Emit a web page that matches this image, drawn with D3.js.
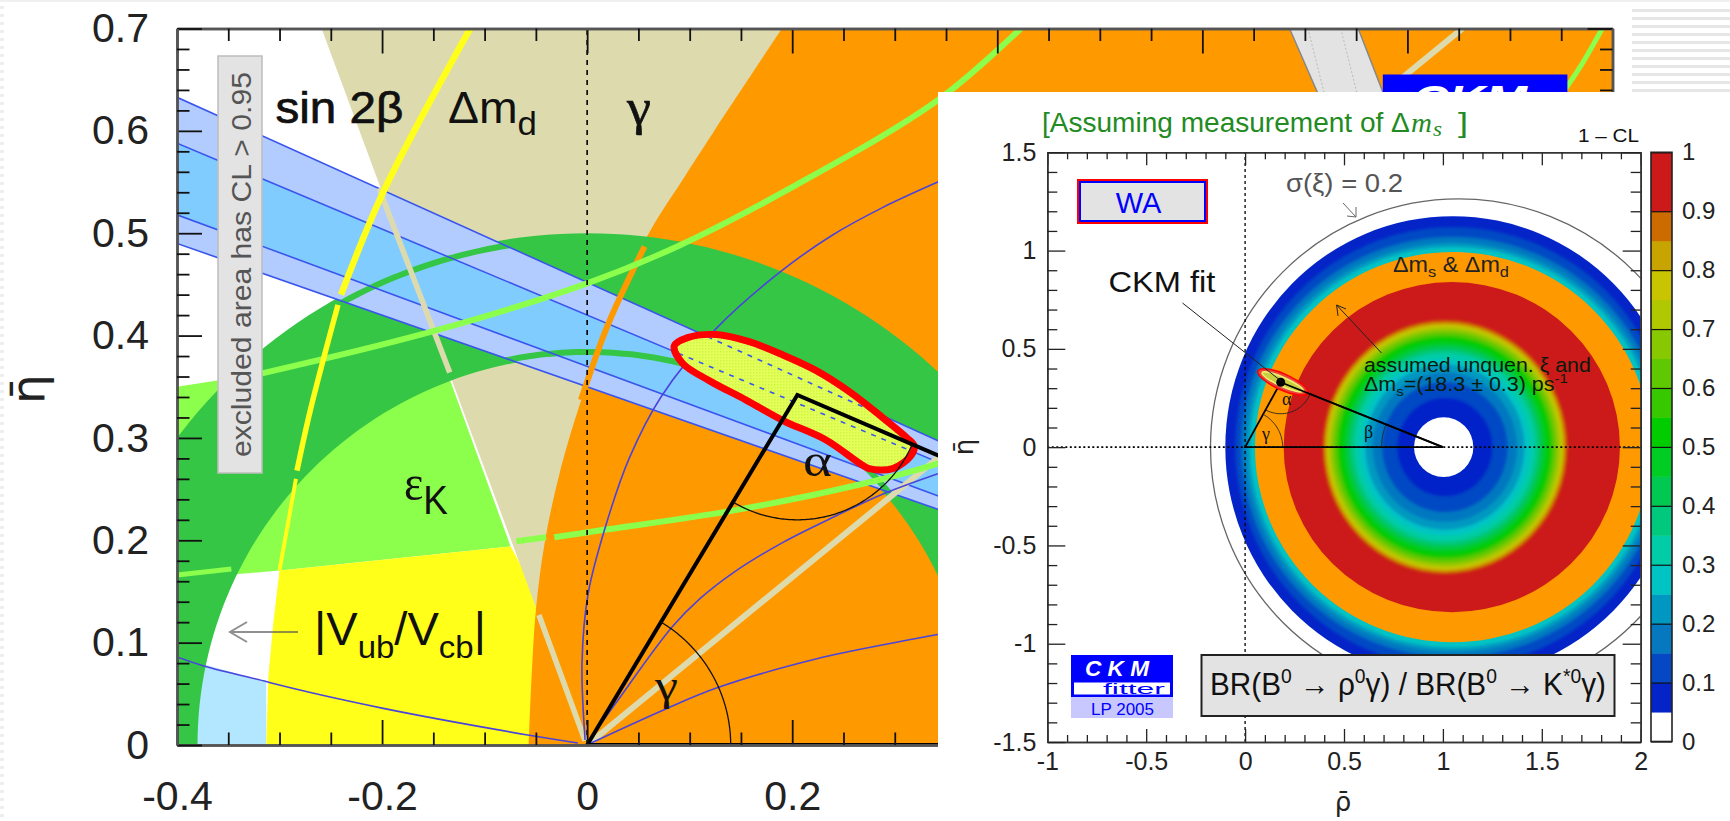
<!DOCTYPE html>
<html><head><meta charset="utf-8">
<style>html,body{margin:0;padding:0;background:#fff}svg{display:block}text{font-family:"Liberation Sans",Arial,sans-serif}</style>
<script src="https://cdn.jsdelivr.net/npm/d3@7"></script></head><body>
<svg id="c" width="1730" height="821"></svg>
<script>
// ---------- main plot data (rho, eta) ----------
const mainXMajor=[-0.4,-0.2,0,0.2,0.4,0.6,0.8,1];
const mainXLabels=[-0.4,-0.2,0,0.2];
const mainYMajor=[0,0.1,0.2,0.3,0.4,0.5,0.6,0.7];
const mainXMinor=[-0.35,-0.3,-0.25,-0.15,-0.1,-0.05,0.05,0.1,0.15,0.25,0.3,0.35,0.45,0.5,0.55,0.65,0.7,0.75,0.85,0.9,0.95];
const mainYMinor=[0.02,0.04,0.06,0.08,0.12,0.14,0.16,0.18,0.22,0.24,0.26,0.28,0.32,0.34,0.36,0.38,0.42,0.44,0.46,0.48,0.52,0.54,0.56,0.58,0.62,0.64,0.66,0.68];
const apex=[0.205,0.342];
const origin=[0,0], pivot=[1,0];
const orangeEdge=[[-0.057,0],[-0.054,0.07],[-0.05,0.132],[-0.041,0.2],[-0.027,0.265],[-0.009,0.327],[0.02,0.41],[0.058,0.496],[0.093,0.552],[0.122,0.597],[0.19,0.7]];
const orangeStrip=[[-0.006,0.337],[0.02,0.41],[0.056,0.487]];
const yellowEdge=[[-0.313,0],[-0.311,0.066],[-0.306,0.12],[-0.3,0.171],[-0.283,0.262],[-0.27,0.327],[-0.24,0.434],[-0.198,0.542],[-0.114,0.7]];
const yellowStripA=[[-0.114,0.7],[-0.198,0.542],[-0.24,0.44]];
const yellowStripB=[[-0.243,0.43],[-0.27,0.327],[-0.283,0.268]];
const yellowStripC=[[-0.284,0.26],[-0.292,0.215],[-0.3,0.171]];
const ekUpper=[[-0.4,0.35],[-0.317,0.363],[-0.151,0.404],[0,0.451],[0.09,0.488],[0.2,0.545],[0.342,0.63],[0.423,0.7]];
const ekLower=[[-0.4,0.163],[-0.34,0.167],[-0.295,0.171],[-0.0746,0.194]];
const ekStripLeft=[[-0.4,0.166],[-0.347,0.172]];
const ekStripMid=[[-0.069,0.199],[-0.04,0.203]];
const ekStripRight=[[-0.032,0.203],[0.015,0.21],[0.142,0.229],[0.272,0.256],[0.342,0.275],[0.5,0.33]];
const ekStripFar=[[0.952,0.638],[0.97,0.665],[0.99,0.7]];
const annulusInner=0.38, annulusOuter=0.5;
const annulusInnerStrip=0.384, annulusOuterStrip=0.494;
const bandLines=[0.452,0.42,0.37,0.35]; // eta at rho = 0 of lines through (1,0)
const rayA=-2.7, rayB=0.82; // slopes of the gamma rays through the origin
const rayStripA=[[-0.203,0.544],[-0.134,0.364]];
const rayStripALow=[[-0.047,0.127],[-0.002,0.004]];
const curve1=[[-0.002,0.005],[-0.005,0.08],[0.001,0.148],[0.019,0.217],[0.041,0.28],[0.072,0.34],[0.126,0.407],[0.188,0.462],[0.239,0.498],[0.288,0.525],[0.342,0.55],[0.4,0.575]];
const curve2=[[0.001,0.003],[0.028,0.041],[0.083,0.1155],[0.11,0.143],[0.142,0.168],[0.191,0.198],[0.243,0.224],[0.288,0.245],[0.342,0.265]];
const curve3=[[0.004,0.002],[0.074,0.034],[0.126,0.0556],[0.223,0.084],[0.321,0.104],[0.342,0.108],[0.4,0.118]];
const curveLeft=[[-0.4,0.086],[-0.373,0.077],[-0.313,0.062],[-0.306,0.06],[-0.2,0.036],[-0.058,0.0098],[-0.009,0.002]];
const skyPatch=[[-0.4,0],[-0.4,0.086],[-0.313,0.062],[-0.313,0]];
const contour=[[0.085,0.39],[0.098,0.398],[0.126,0.401],[0.158,0.394],[0.191,0.381],[0.223,0.366],[0.256,0.345],[0.288,0.32],[0.312,0.3],[0.319,0.292],[0.316,0.283],[0.298,0.27],[0.275,0.27],[0.266,0.275],[0.233,0.298],[0.191,0.317],[0.155,0.337],[0.119,0.356],[0.093,0.373]];
const gammaArcRadius=0.14, alphaArcRadius=0.122;
const greyBar=[[0.685,0.7],[0.712,0.638],[0.712,0.5],[0.776,0.5],[0.776,0.638],[0.752,0.7]];
const greyBarInner=[[[0.703,0.7],[0.728,0.6]],[[0.735,0.7],[0.76,0.6]]];
const ckmBox=[[0.776,0.655],[0.956,0.655],[0.956,0.5],[0.776,0.5]];

// ---------- inset data ----------
const insetXMajor=[-1,-0.5,0,0.5,1,1.5,2];
const insetYMajor=[-1.5,-1,-0.5,0,0.5,1,1.5];
const insetXMinor=[-0.9,-0.8,-0.7,-0.6,-0.4,-0.3,-0.2,-0.1,0.1,0.2,0.3,0.4,0.6,0.7,0.8,0.9,1.1,1.2,1.3,1.4,1.6,1.7,1.8,1.9];
const insetYMinor=[-1.4,-1.3,-1.2,-1.1,-0.9,-0.8,-0.7,-0.6,-0.4,-0.3,-0.2,-0.1,0.1,0.2,0.3,0.4,0.6,0.7,0.8,0.9,1.1,1.2,1.3,1.4];
const barLabels=[0,0.1,0.2,0.3,0.4,0.5,0.6,0.7,0.8,0.9,1];
const barEdges=[0,0.05,0.1,0.15,0.2,0.25,0.3,0.35,0.4,0.45,0.5,0.55,0.6,0.65,0.7,0.75,0.8,0.85,0.9,1];
const barColors=["#ffffff","#0424c8","#0648c4","#0678c0","#0098c0","#00c4c4","#00cca8","#00c87c","#00c850","#00cc24","#00cc00","#38c800","#60c800","#88c800","#b0c800","#c8c400","#c8a400","#cc6c00","#cc1a1a"];
const ringOrange="#ff9900";
const ringValue=[0.05,0.1,0.15,0.2,0.25,null,0.9,0.85,0.8,0.75,0.7,0.65,0.6,0.55,0.5,0.45,0.4,0.35,0.3,0.25,0.2,0.15,0.1,0.05,0];
const ringEta=[1.175,1.12,1.07,1.04,1.02,0.993,0.84,0.645,0.632,0.622,0.612,0.6,0.585,0.57,0.555,0.54,0.52,0.5,0.48,0.45,0.42,0.38,0.33,0.25,0.152];
const ringRho=[1.15,1.1,1.07,1.045,1.025,1.0,0.85,0.618,0.606,0.596,0.586,0.575,0.56,0.546,0.532,0.517,0.498,0.479,0.46,0.431,0.402,0.364,0.316,0.24,0.15];
const ringCenter=[1.05,1.05,1.05,1.05,1.05,1.05,1.045,1.011,1.01,1.01,1.01,1.01,1.01,1.01,1.01,1.01,1.01,1.01,1.01,1.01,1.01,1.01,1.01,1.01,1.004];
const sigmaCircle={rho:1.08,r:1.255};
const insetApex=[0.18,0.33];
const insetContourCenter=[0.19,0.332];

// ---------- scales ----------
const x=d3.scaleLinear([-0.4,1],[177,1612.5]);
const y=d3.scaleLinear([0,0.7],[745,28.5]);
const ix=d3.scaleLinear([-1,2],[1047.3,1640.7]);
const iy=d3.scaleLinear([-1.5,1.5],[742,152.3]);
const by=d3.scaleLinear([0,1],[741.5,152.3]);
const barColor=d3.scaleThreshold().domain(barEdges.slice(1,-1)).range(barColors);

const svg=d3.select("#c");
const defs=svg.append("defs");
const line=d3.line(d=>x(d[0]),d=>y(d[1]));
const smooth=d3.line(d=>x(d[0]),d=>y(d[1])).curve(d3.curveCatmullRom);
const closed=d3.line(d=>x(d[0]),d=>y(d[1])).curve(d3.curveCatmullRomClosed);
const iline=d3.line(d=>ix(d[0]),d=>iy(d[1]));

defs.append("filter").attr("id","soft").attr("x","-5%").attr("y","-5%").attr("width","110%").attr("height","110%")
  .append("feGaussianBlur").attr("stdDeviation",1.6);
const pat=defs.append("pattern").attr("id","dots").attr("width",3).attr("height",3).attr("patternUnits","userSpaceOnUse");
pat.append("rect").attr("width",3).attr("height",3).attr("fill","#e4ff58");
pat.append("rect").attr("width",1.5).attr("height",1.5).attr("fill","#ccf545");

// slide background
const bg=svg.append("g");
bg.append("rect").attr("x",0).attr("y",0).attr("width",1730).attr("height",2).attr("fill","#f0f0f0");
d3.range(6,821,8).forEach(v=>bg.append("rect").attr("x",0).attr("y",v).attr("width",4).attr("height",3).attr("fill","#eeeeee"));
d3.range(9,92,8).forEach(v=>bg.append("rect").attr("x",1632).attr("y",v).attr("width",98).attr("height",3).attr("fill","#e6e6e6"));

// ---------- main plot ----------
defs.append("clipPath").attr("id","mainClip").append("rect").attr("x",x(-0.4)).attr("y",y(0.7)).attr("width",x(1)-x(-0.4)).attr("height",y(0)-y(0.7));
const bandPoly=[[-0.4,bandLines[0]*1.4],[1,0],[-0.4,bandLines[3]*1.4]];
const innerPoly=[[-0.4,bandLines[1]*1.4],[1,0],[-0.4,bandLines[2]*1.4]];
defs.append("clipPath").attr("id","bandClip").append("path").attr("d",line(bandPoly)+"Z");
defs.append("clipPath").attr("id","contourClip").append("path").attr("d",closed(contour));

const m=svg.append("g").attr("clip-path","url(#mainClip)");
const fillP=(pts,col,gen=line)=>m.append("path").attr("d",gen(pts)+"Z").attr("fill",col);
const strip=(pts,col,w,par=m)=>par.append("path").attr("d",smooth(pts)).attr("fill","none").attr("stroke",col).attr("stroke-width",w);
const circlePts=(r,a0,a1)=>d3.range(a0,a1+0.001,(a1-a0)/120).map(a=>[r*Math.cos(a),r*Math.sin(a)]);

const lowerRev=ekLower.slice().reverse();
fillP(ekUpper.slice(0,3).concat(lowerRev),"#8cff4c");
fillP(skyPatch,"#b3e6ff");
const yellowPoly=yellowEdge.slice(0,4).concat(ekLower.slice(2)).concat([[-0.04,0.13],[-0.04,0]]);
fillP(yellowPoly,"#ffff1a");
fillP([[-0.049,0.132],[-0.259,0.7],[0.3,0.7],[0.3,0.132]],"#dddbae");
m.append("path").attr("d",smooth(orangeEdge)+"L"+x(1)+","+y(0.7)+"L"+x(1)+","+y(0)+"Z").attr("fill","#ff9900");
// annulus
fillP(circlePts(annulusOuter,0,Math.PI).concat(circlePts(annulusInner,0,Math.PI).reverse()),"#35c646");
// bands
fillP(bandPoly,"#b3ccff");
fillP(innerPoly,"#80ccff");
// strips clipped to the band
const bandStrips=m.append("g").attr("clip-path","url(#bandClip)");
strip(circlePts(annulusOuterStrip,0,Math.PI),"#35c646",6,bandStrips);
strip(circlePts(annulusInnerStrip,0,Math.PI),"#35c646",6,bandStrips);
// band edge lines
bandLines.forEach(v=>m.append("path").attr("d",line([[-0.4,v*1.4],[1,0]])).attr("fill","none").attr("stroke","#3a55ee").attr("stroke-width",1.6));
strip(orangeStrip,"#ff9900",6);
strip(rayStripA,"#dddbae",5.5);
strip(rayStripALow,"#dddbae",5.5);
m.append("path").attr("d",line([[0,0],[0.7/rayB,0.7]])).attr("fill","none").attr("stroke","#dddbae").attr("stroke-width",6);
strip(ekUpper.slice(1),"#8cff4c",6);
strip(ekStripLeft,"#8cff4c",5);
strip(ekStripMid,"#8cff4c",6);
strip(ekStripRight,"#8cff4c",6);
strip(ekStripFar,"#8cff4c",5);
strip(yellowStripA,"#ffff1a",6.5);
strip(yellowStripB,"#ffff1a",5.5);
strip(yellowStripC,"#ffff1a",4);
[curve1,curve2,curve3,curveLeft].forEach(c=>strip(c,"#4a44dd",1.6));
// grey rotated bar and CKM box behind the inset
m.append("path").attr("d",line(greyBar)+"Z").attr("fill","#e3e3e3").attr("stroke","#888").attr("stroke-width",1.5);
greyBarInner.forEach(s=>m.append("path").attr("d",line(s)).attr("stroke","#bbb").attr("stroke-dasharray","2 2"));
fillP(ckmBox,"#0000ff");
// fit contour
m.append("path").attr("d",closed(contour)).attr("fill","url(#dots)");
const dashes=m.append("g").attr("clip-path","url(#contourClip)");
[bandLines[0],bandLines[1]].forEach(v=>dashes.append("path").attr("d",line([[0,v],[1,0]])).attr("stroke","#3a55ee").attr("stroke-width",1.6).attr("stroke-dasharray","5 6"));
m.append("path").attr("d",closed(contour)).attr("fill","none").attr("stroke","#ff0000").attr("stroke-width",7).attr("stroke-linejoin","round");
// triangle and angles
m.append("path").attr("d",line([origin,apex,pivot])).attr("fill","none").attr("stroke","#000").attr("stroke-width",4);
m.append("path").attr("d",line([origin,pivot])).attr("stroke","#000").attr("stroke-width",4);
const gTop=Math.atan2(apex[1],apex[0]);
m.append("path").attr("d",smooth(circlePts(gammaArcRadius,0,gTop))).attr("fill","none").attr("stroke","#111").attr("stroke-width",1.3);
const a0=Math.atan2(-apex[1],-apex[0]), a1=Math.atan2(-apex[1],1-apex[0]);
m.append("path").attr("d",smooth(circlePts(alphaArcRadius,a0,a1).map(p=>[p[0]+apex[0],p[1]+apex[1]]))).attr("fill","none").attr("stroke","#111").attr("stroke-width",1.3);
m.append("path").attr("d",line([[0,0],[0,0.7]])).attr("stroke","#000").attr("stroke-width",1.6).attr("stroke-dasharray","5 5");

// axes
function axes(g,xs,ys,xMaj,xMin,yMaj,yMin,xLab,o){
  const bottom=ys.range()[0], top=ys.range()[1], left=xs.range()[0], right=xs.range()[1];
  const mk=(gen,vals,len,fmt,pad,tr)=>{
    const a=g.append("g").attr("transform",tr).call(gen.tickValues(vals).tickSizeInner(-len).tickSizeOuter(0).tickPadding(pad).tickFormat(fmt));
    a.selectAll("line").attr("stroke",o.tick).attr("stroke-width",o.tw);
    a.selectAll("path.domain").attr("stroke",o.dom).attr("stroke-width",o.dw);
    a.selectAll("text").attr("font-size",o.fs).attr("fill",o.tc);
    if(fmt===blank)a.selectAll("text").remove();
  };
  const blank=()=>"";
  mk(d3.axisBottom(xs),xMaj,o.xM,d=>xLab.includes(d)?String(d):"",o.xp,`translate(0,${bottom})`);
  mk(d3.axisBottom(xs),xMin,o.xm,blank,0,`translate(0,${bottom})`);
  mk(d3.axisTop(xs),xMaj,o.xM,blank,0,`translate(0,${top})`);
  mk(d3.axisTop(xs),xMin,o.xm,blank,0,`translate(0,${top})`);
  mk(d3.axisLeft(ys),yMaj,o.yM,d=>String(d),o.yp,`translate(${left},0)`);
  mk(d3.axisLeft(ys),yMin,o.ym,blank,0,`translate(${left},0)`);
  mk(d3.axisRight(ys),yMaj,o.yM,blank,0,`translate(${right},0)`);
  mk(d3.axisRight(ys),yMin,o.ym,blank,0,`translate(${right},0)`);
}
axes(svg.append("g"),x,y,mainXMajor,mainXMinor,mainYMajor,mainYMinor,mainXLabels,{tick:"#111",tw:1.8,dom:"#555",dw:2.5,fs:41,tc:"#222",xM:25,xm:12.5,yM:25,ym:12.5,xp:36,yp:28});

// text helpers
function rich(par,xp,yp,parts,o={}){
  const t=par.append("text").attr("x",xp).attr("y",yp).attr("font-size",o.size||20).attr("fill",o.fill||"#000");
  if(o.weight)t.attr("font-weight",o.weight);
  if(o.anchor)t.attr("text-anchor",o.anchor);
  if(o.rotate)t.attr("transform",`rotate(${o.rotate} ${xp} ${yp})`);
  if(o.bold)t.attr("stroke",o.fill||"#000").attr("stroke-width",o.bold);
  let shift=0;
  parts.forEach(p=>{
    const sz=(o.size||20)*(p.k||1);
    const d=p.dy||0;
    const s=t.append("tspan").text(p.t).attr("font-size",sz).attr("dy",d-shift);
    shift=d;
    if(p.f)s.attr("font-family",p.f);
    if(p.i)s.attr("font-style","italic");
  });
  if(o.width){
    const len=t.node().getComputedTextLength();
    const k=o.width/len;
    const base=o.rotate?`rotate(${o.rotate} ${xp} ${yp}) `:"";
    t.attr("transform",`${base}translate(${xp} ${yp}) scale(${k} 1) translate(${-xp} ${-yp})`);
  }
  return t;
}
const SERIF='"Liberation Serif",serif', DV='"DejaVu Sans",sans-serif';
const L=svg.append("g");
// axis title
rich(L,44,404,[{t:"η̄",f:DV}],{size:47,fill:"#222",rotate:-90});
// labels in the plot
rich(L,275.5,123,[{t:"sin 2β"}],{size:44,bold:0.7,width:128,fill:"#111"});
rich(L,448,123,[{t:"Δm"},{t:"d",k:0.75,dy:12}],{size:44,width:89,fill:"#111"});
rich(L,627,124,[{t:"γ",f:SERIF}],{size:50,bold:0.6,width:24,fill:"#111"});
rich(L,404,500,[{t:"ε",f:SERIF},{t:"K",k:0.8,dy:14}],{size:50,width:44,fill:"#111"});
rich(L,314,645,[{t:"|V"},{t:"ub",k:0.7,dy:13},{t:"/V"},{t:"cb",k:0.7,dy:13},{t:"|"}],{size:46,width:172,fill:"#111"});
rich(L,803,476,[{t:"α",f:SERIF}],{size:46,width:29,fill:"#111"});
rich(L,655,700,[{t:"γ",f:SERIF}],{size:44,width:23,fill:"#111"});
// CL box
L.append("rect").attr("x",218).attr("y",56).attr("width",44).attr("height",417).attr("fill","#e3e3e3").attr("stroke","#bdbdbd").attr("stroke-width",1.5);
rich(L,251,457,[{t:"excluded area has CL > 0.95"}],{size:28,fill:"#555",rotate:-90,width:385});
// Vub arrow
L.append("path").attr("d","M298 632H230M247 622L230 632L247 642").attr("fill","none").attr("stroke","#555").attr("stroke-opacity",0.65).attr("stroke-width",2);
// CKM text in the box behind the inset
rich(L,1412,114,[{t:"CKM",i:1}],{size:40,weight:"bold",fill:"#fff",width:115});

// ---------- inset ----------
const I=svg.append("g");
I.append("rect").attr("x",938).attr("y",92).attr("width",792).attr("height",729).attr("fill","#fff");
defs.append("clipPath").attr("id","insetClip").append("rect").attr("x",ix(-1)).attr("y",iy(1.5)).attr("width",ix(2)-ix(-1)).attr("height",iy(-1.5)-iy(1.5));
const P=I.append("g").attr("clip-path","url(#insetClip)");
P.append("circle").attr("cx",ix(sigmaCircle.rho)).attr("cy",iy(0)).attr("r",ix(sigmaCircle.rho+sigmaCircle.r)-ix(sigmaCircle.rho)).attr("fill","none").attr("stroke","#666").attr("stroke-width",1.3);
P.selectAll("ellipse.ring").data(ringEta).join("ellipse").attr("class","ring")
 .attr("cx",(d,i)=>ix(ringCenter[i])).attr("cy",iy(0))
 .attr("rx",(d,i)=>ix(ringRho[i])-ix(0)).attr("ry",d=>iy(0)-iy(d))
 .attr("fill",(d,i)=>ringValue[i]===null?ringOrange:barColor(ringValue[i]))
 .attr("filter",(d,i)=>(i===0||i===5||i===6||i===ringEta.length-1)?null:"url(#soft)");
// reference lines
P.append("path").attr("d",iline([[-1,0],[2,0]])).attr("stroke","#000").attr("stroke-width",1.6).attr("stroke-dasharray","2 2.5");
P.append("path").attr("d",iline([[0,-1.5],[0,1.5]])).attr("stroke","#000").attr("stroke-width",1.3).attr("stroke-dasharray","3 3");
// triangle
P.append("path").attr("d",iline([[0,0],insetApex,[1,0]])+"Z").attr("fill","none").attr("stroke","#000").attr("stroke-width",1.8);
const arcI=(c,r,a,b)=>iline(d3.range(a,b+1e-6,(b-a)/30).map(t=>[c[0]+r*Math.cos(t),c[1]+r*Math.sin(t)]));
const ig=Math.atan2(insetApex[1],insetApex[0]);
[[[0,0],0.19,0,ig],[[1,0],0.31,Math.PI-0.39,Math.PI],[insetApex,0.16,Math.atan2(-insetApex[1],-insetApex[0]),Math.atan2(-insetApex[1],1-insetApex[0])]].forEach(a=>
  P.append("path").attr("d",arcI(...a)).attr("fill","none").attr("stroke","#222").attr("stroke-width",0.9));
// fit contour of the inset
const cc=[ix(insetContourCenter[0]),iy(insetContourCenter[1])];
const C=P.append("g").attr("transform",`translate(${cc[0]},${cc[1]}) rotate(24)`);
C.append("ellipse").attr("rx",27).attr("ry",8).attr("fill","#e8483a").attr("stroke","#ff0000").attr("stroke-width",1.5);
C.append("ellipse").attr("rx",22.5).attr("ry",4.5).attr("fill","#c8d040").attr("stroke","#f0f070").attr("stroke-width",1.6);
P.append("path").attr("d",iline([[insetApex[0],insetApex[1]],[1,0]])).attr("stroke","#000").attr("stroke-width",1.8);
P.append("circle").attr("cx",ix(insetApex[0])).attr("cy",iy(insetApex[1])).attr("r",4.5).attr("fill","#000");
// box, logos
axes(I.append("g"),ix,iy,insetXMajor,insetXMinor,insetYMajor,insetYMinor,insetXMajor,{tick:"#222",tw:1.3,dom:"#333",dw:1.6,fs:25,tc:"#222",xM:13,xm:7,yM:18,ym:10,xp:10,yp:11});
// color bar
const bar=I.append("g");
barEdges.slice(0,-1).forEach((e,i)=>bar.append("rect").attr("x",1651).attr("y",by(barEdges[i+1])).attr("width",21).attr("height",by(e)-by(barEdges[i+1])+0.5).attr("fill",barColors[i]));
const barAxis=bar.append("g").attr("transform","translate(1672,0)").call(d3.axisRight(by).tickValues(barLabels).tickSizeInner(-21).tickSizeOuter(0).tickPadding(10).tickFormat(d=>String(d)));
barAxis.selectAll("line").attr("stroke","#111").attr("stroke-width",1.2);
barAxis.select("path.domain").remove();
barAxis.selectAll("text").attr("font-size",24).attr("fill","#222");
bar.append("rect").attr("x",1651).attr("y",by(1)).attr("width",21).attr("height",by(0)-by(1)).attr("fill","none").attr("stroke","#222").attr("stroke-width",1.6);
// annotations: title in one run, the subscript is set as a separate element
rich(I,1042,132,[{t:"[Assuming measurement of Δ"}],{size:28,fill:"#228b22",width:368});
rich(I,1411,132,[{t:"m",f:SERIF,i:1}],{size:28,fill:"#228b22",width:21});
rich(I,1433,136,[{t:"s",f:SERIF,i:1}],{size:22,fill:"#228b22",width:9});
rich(I,1458,132,[{t:"]"}],{size:28,fill:"#228b22",width:10});
rich(I,1578,142,[{t:"1 – CL"}],{size:18,fill:"#111",width:61});
I.append("rect").attr("x",1078).attr("y",180).attr("width",129).attr("height",43).attr("fill","#e3e3e3").attr("stroke","#ff0000").attr("stroke-width",2);
I.append("rect").attr("x",1080).attr("y",182).attr("width",125).attr("height",39).attr("fill","none").attr("stroke","#0000ff").attr("stroke-width",2);
rich(I,1138.5,213,[{t:"WA"}],{size:29,fill:"#0000ff",anchor:"middle"});
rich(I,1286,192,[{t:"σ(ξ) =  0.2"}],{size:25,fill:"#555",width:117});
I.append("path").attr("d","M1343 203L1356 217M1347 216L1356 217L1356 207").attr("fill","none").attr("stroke","#666").attr("stroke-width",1);
rich(I,1393,272,[{t:"Δm"},{t:"s",k:0.7,dy:5},{t:" & Δm"},{t:"d",k:0.7,dy:5}],{size:22,fill:"#222",width:116});
I.append("path").attr("d","M1381.5 353L1336.6 305M1338 316L1336.6 305L1346 309").attr("fill","none").attr("stroke","#222").attr("stroke-width",1);
rich(I,1364,372,[{t:"assumed unquen. ξ and"}],{size:19.5,fill:"#0a1a0a",width:227});
rich(I,1364,391,[{t:"Δm"},{t:"s",k:0.7,dy:5},{t:"=(18.3 ± 0.3) ps"},{t:"-1",k:0.7,dy:-8}],{size:19.5,fill:"#0a1a0a",width:204});
rich(I,1108.5,292,[{t:"CKM fit"}],{size:30,fill:"#111",width:107});
I.append("path").attr("d","M1182.5 303L1281 381").attr("stroke","#222").attr("stroke-width",1);
rich(I,1282,405,[{t:"α",f:SERIF}],{size:18,fill:"#111"});
rich(I,1262,440,[{t:"γ",f:SERIF}],{size:18,fill:"#111"});
rich(I,1364,438,[{t:"β",f:SERIF}],{size:18,fill:"#111"});
rich(I,1343,811,[{t:"ρ̄",f:DV}],{size:26,fill:"#222",anchor:"middle"});
rich(I,973,447,[{t:"η̄",f:DV}],{size:26,fill:"#222",rotate:-90,anchor:"middle"});
// BR box
I.append("rect").attr("x",1201.5).attr("y",655).attr("width",413).attr("height",61).attr("fill","#e3e3e3").attr("stroke","#222").attr("stroke-width",2);
rich(I,1210,695,[{t:"BR(B"},{t:"0",k:0.65,dy:-12},{t:" → ρ",dy:0},{t:"0",k:0.65,dy:-12},{t:"γ) / BR(B",dy:0},{t:"0",k:0.65,dy:-12},{t:" → K",dy:0},{t:"*0",k:0.65,dy:-12},{t:"γ)",dy:0}],{size:32,fill:"#111",width:396});
// logo
const logo=I.append("g");
logo.append("rect").attr("x",1071).attr("y",655).attr("width",102).attr("height",27).attr("fill","#0000ff");
logo.append("rect").attr("x",1072.5).attr("y",681).attr("width",99).attr("height",15).attr("fill","#fff").attr("stroke","#0000ff").attr("stroke-width",3);
logo.append("rect").attr("x",1071).attr("y",697).attr("width",102).attr("height",21).attr("fill","#c8c8ff");
rich(logo,1085,676.5,[{t:"C K M",i:1}],{size:22,weight:"bold",fill:"#fff",width:64});
rich(logo,1103,694,[{t:"fitter"}],{size:15,fill:"#0000ff",width:62});
rich(logo,1091,715,[{t:"LP 2005"}],{size:16,fill:"#0000ff",width:63});
</script></body></html>
